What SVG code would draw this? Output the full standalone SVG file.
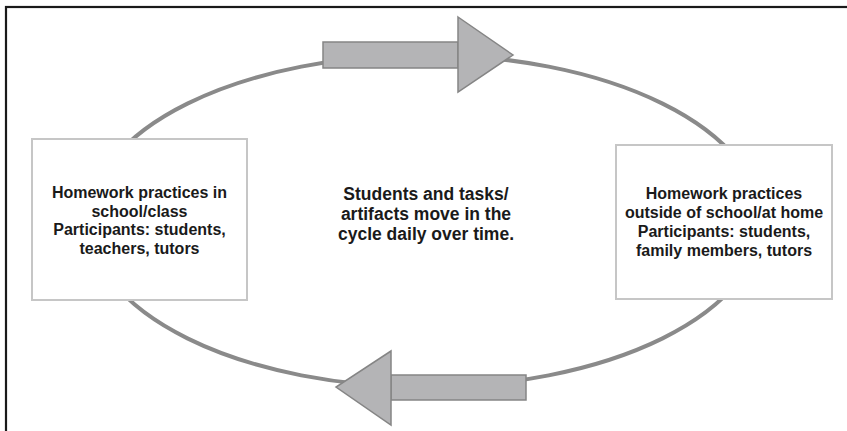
<svg xmlns="http://www.w3.org/2000/svg" width="847" height="431" viewBox="0 0 847 431">
<style>
.frame{fill:none;stroke:#1a1a1a;stroke-width:2.2}
.cycle{fill:none;stroke:#8a8a8a;stroke-width:4}
.arrow{fill:#b4b4b6;stroke:#858585;stroke-width:1.5;stroke-linejoin:miter}
.box{fill:#ffffff;stroke:#c6c6c6;stroke-width:2}
.t{font-family:"Liberation Sans",Arial,Helvetica,sans-serif;font-weight:bold;font-size:16px;fill:#1a1a1a;text-anchor:middle}
.tc{font-size:17.5px}
</style>
<rect width="847" height="431" fill="#ffffff"/>
<rect class="frame" x="6" y="7" width="900" height="500"/>
<g id="connectors">
<ellipse class="cycle" cx="425" cy="221" rx="336" ry="166"/>
<g id="arrow-top">
<rect class="arrow" x="323" y="42" width="135" height="26"/>
<polygon class="arrow" points="458,17 513,55 458,92"/>
</g>
<g id="arrow-bottom">
<rect class="arrow" x="391" y="375" width="135" height="25"/>
<polygon class="arrow" points="391,351 336,387 391,425"/>
</g>
</g>
<g id="node-school">
<rect class="box" x="32" y="139" width="215" height="161"/>
<text class="t" x="139.5" y="198">Homework practices in</text>
<text class="t" x="139.5" y="216.5">school/class</text>
<text class="t" x="139.5" y="235">Participants: students,</text>
<text class="t" x="139.5" y="253.5">teachers, tutors</text>
</g>
<g id="node-home">
<rect class="box" x="616" y="145" width="216" height="154"/>
<text class="t" x="724" y="199">Homework practices</text>
<text class="t" x="724" y="218">outside of school/at home</text>
<text class="t" x="724" y="237">Participants: students,</text>
<text class="t" x="724" y="255.5">family members, tutors</text>
</g>
<g id="node-center">
<text class="t tc" x="426" y="200">Students and tasks/</text>
<text class="t tc" x="426" y="220">artifacts move in the</text>
<text class="t tc" x="426" y="240">cycle daily over time.</text>
</g>
</svg>
